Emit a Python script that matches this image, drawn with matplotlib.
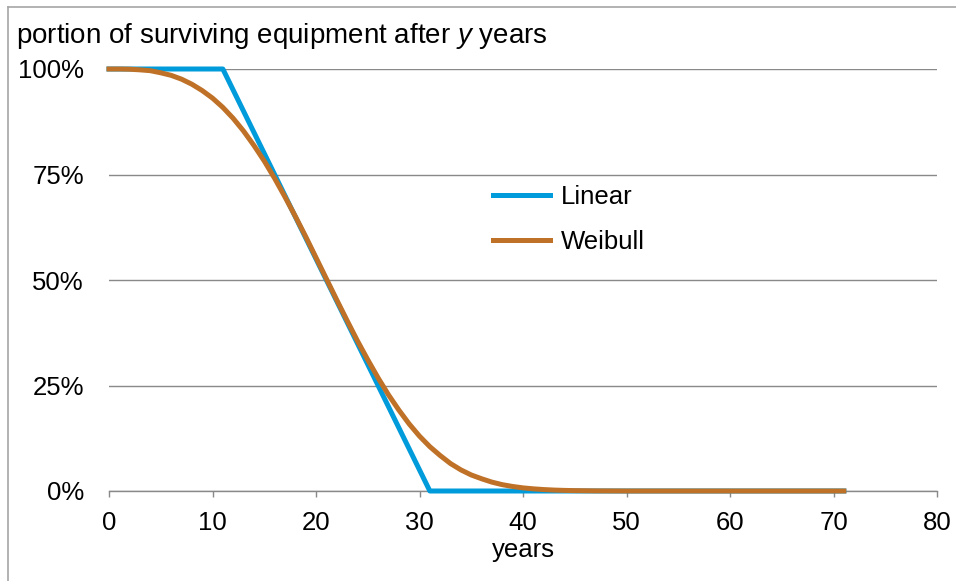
import matplotlib.pyplot as plt
from matplotlib.lines import Line2D
from matplotlib.ticker import FuncFormatter

# data (percent surviving by year)
years = list(range(0, 72))
linear = [100, 100, 100, 100, 100, 100, 100, 100, 100, 100, 100, 100,
          95, 90, 85, 80, 75, 70, 65, 60, 55, 50, 45, 40, 35, 30, 25, 20,
          15, 10, 5, 0,
          0, 0, 0, 0, 0, 0, 0, 0, 0, 0, 0, 0, 0, 0, 0, 0, 0, 0, 0, 0,
          0, 0, 0, 0, 0, 0, 0, 0, 0, 0, 0, 0, 0, 0, 0, 0, 0, 0, 0, 0]
weibull = [100.0, 100.0, 99.95, 99.8, 99.6, 99.1, 98.5, 97.6, 96.4, 94.9,
           93.1, 90.9, 88.3, 85.3, 81.9, 78.2, 74.1, 69.7, 65.1, 60.3,
           55.3, 50.3, 45.3, 40.4, 35.6, 31.1, 26.8, 22.8, 19.2, 15.9,
           13.0, 10.5, 8.4, 6.5, 5.0, 3.8, 2.9, 2.1, 1.5, 1.07,
           0.74, 0.51, 0.34, 0.22, 0.14, 0.09, 0.06, 0.03, 0.02, 0.01,
           0, 0, 0, 0, 0, 0, 0, 0, 0, 0, 0, 0, 0, 0, 0, 0, 0, 0, 0, 0, 0, 0]
x_ticks = [0, 10, 20, 30, 40, 50, 60, 70, 80]
y_ticks = [0, 25, 50, 75, 100]

plt.rcParams['font.family'] = ['Liberation Sans', 'DejaVu Sans']
plt.rcParams['mathtext.fontset'] = 'custom'
plt.rcParams['mathtext.rm'] = 'Liberation Sans'
plt.rcParams['mathtext.it'] = 'Liberation Sans:italic'

W, H = 956, 581
fs = 18.5
fig = plt.figure(figsize=(W / 100, H / 100), dpi=100)
ax = fig.add_axes([109 / W, 1 - 491 / H, (937 - 109) / W, (491 - 69) / H])

grid_col = '#898989'
ax.plot(years, linear, color='#009BDB', lw=3.6, label='Linear', clip_on=False,
        solid_joinstyle='round', zorder=3)
ax.plot(years, weibull, color='#BF7128', lw=3.6, label='Weibull', clip_on=False,
        solid_joinstyle='round', zorder=4)

ax.set_xlim(0, 80)
ax.set_ylim(0, 100)
ax.set_xticks(x_ticks)
ax.set_yticks(y_ticks)
ax.yaxis.set_major_formatter(FuncFormatter(lambda v, p: f'{v:.0f}%'))
ax.grid(axis='y', color=grid_col, lw=1.0)
ax.set_axisbelow(True)
for s in ['top', 'right', 'left']:
    ax.spines[s].set_visible(False)
ax.spines['bottom'].set_color(grid_col)
ax.spines['bottom'].set_linewidth(1.0)
ax.tick_params(axis='x', direction='out', length=4.5, width=1.0, color=grid_col,
               labelsize=fs, pad=10)
ax.tick_params(axis='y', length=0, labelsize=fs, pad=18)
ax.set_xlabel('years', fontsize=fs, labelpad=2)

fig.text(16 / W, 1 - 43 / H, 'portion of surviving equipment after $\\mathit{y}$ years',
         fontsize=20, ha='left', va='baseline')

ax.legend(loc='upper left', bbox_to_anchor=(493 / W, 1 - 185 / H),
          bbox_transform=fig.transFigure, frameon=False, fontsize=fs,
          borderpad=0, borderaxespad=0, handlelength=2.2, handletextpad=0.45,
          labelspacing=0.83)

# outer chart border (only top and left edges fall inside the picture)
fig.add_artist(Line2D([8 / W, 8 / W], [0, 1 - 7 / H], transform=fig.transFigure,
                      color='#A6A6A6', lw=1.2))
fig.add_artist(Line2D([8 / W, 1], [1 - 7 / H, 1 - 7 / H], transform=fig.transFigure,
                      color='#A6A6A6', lw=1.2))

fig.savefig('out.png', dpi=100)
